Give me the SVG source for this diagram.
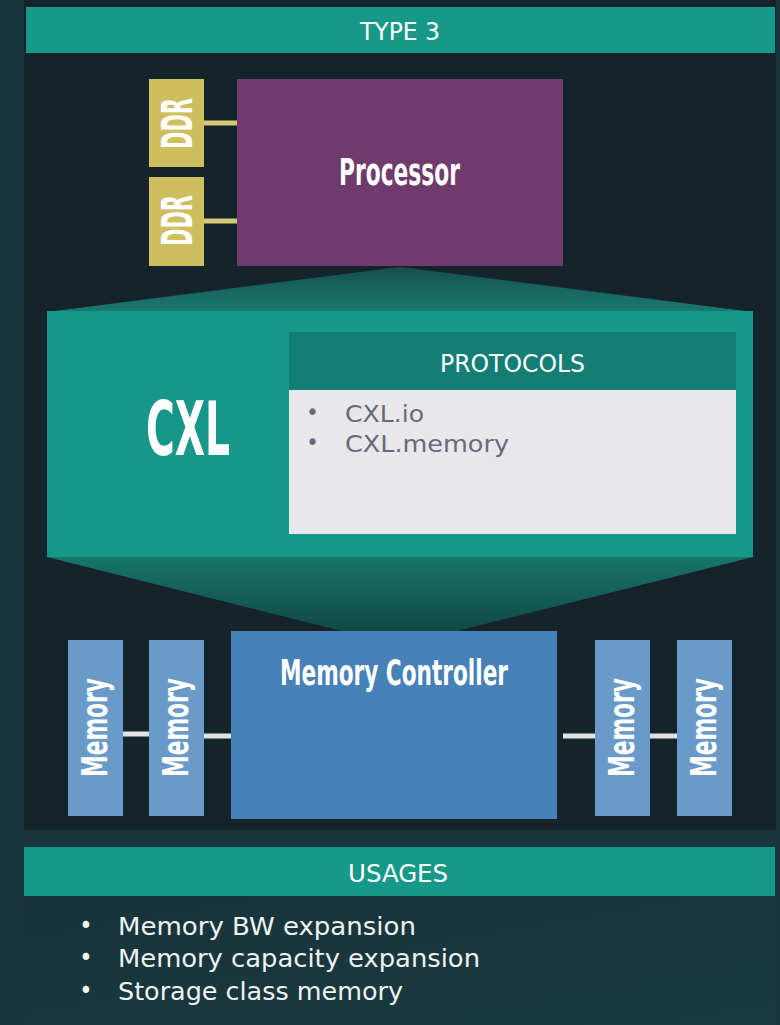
<svg xmlns="http://www.w3.org/2000/svg" width="780" height="1025" viewBox="0 0 780 1025">
  <defs>
    <linearGradient id="gTop" x1="0" y1="0" x2="0" y2="1">
      <stop offset="0" stop-color="#16504d"/>
      <stop offset="1" stop-color="#1a7a70"/>
    </linearGradient>
    <linearGradient id="gBot" x1="0" y1="0" x2="0" y2="1">
      <stop offset="0" stop-color="#177569"/>
      <stop offset="1" stop-color="#134846"/>
    </linearGradient>
    <linearGradient id="gUse" x1="0" y1="0" x2="1" y2="1">
      <stop offset="0" stop-color="#18343a"/>
      <stop offset="1" stop-color="#1a3a40"/>
    </linearGradient>
    <style>
      .bar { fill: #17998a; }
      .cond { font-family: "DejaVu Sans Condensed", "DejaVu Sans", sans-serif; font-stretch: condensed; }
      .hdr { font-size: 25px; fill: #ffffff; text-anchor: middle; }
      .bold { font-weight: bold; fill: #ffffff; }
      .mem { fill: #6a9bc8; }
      .ddr { fill: #cfbe5f; }
      .proto { font-size: 23.5px; fill: #6b687c; }
      .use { font-size: 25px; fill: #eef3f3; }
      .lnk-y { stroke: #d6c97c; stroke-width: 5; }
      .lnk-g { stroke: #e2e2e2; stroke-width: 5; }
    </style>
  </defs>

  <!-- background -->
  <rect x="0" y="0" width="780" height="1025" fill="#18363c"/>
  <rect x="24" y="0" width="752" height="830" fill="#15242a"/>
  <rect x="24" y="896" width="752" height="129" fill="url(#gUse)"/>

  <!-- TYPE 3 header -->
  <g id="type3-header">
    <rect class="bar" x="26" y="7" width="749" height="46"/>
    <text class="cond hdr" x="400" y="40" textLength="80" lengthAdjust="spacingAndGlyphs">TYPE 3</text>
  </g>

  <!-- connectors -->
  <g id="connectors">
    <line class="lnk-y" x1="204" y1="123" x2="237" y2="123"/>
    <line class="lnk-y" x1="204" y1="221" x2="237" y2="221"/>
    <line class="lnk-g" x1="123" y1="734" x2="149" y2="734"/>
    <line class="lnk-g" x1="204" y1="736" x2="231" y2="736"/>
    <line class="lnk-g" x1="563" y1="736" x2="595" y2="736"/>
    <line class="lnk-g" x1="650" y1="736" x2="677" y2="736"/>
  </g>

  <!-- DDR modules -->
  <g id="ddr1">
    <rect class="ddr" x="149" y="79" width="55" height="88"/>
    <text class="cond bold" font-size="42" text-anchor="middle" transform="translate(176.5,123.5) rotate(-90)" x="0" y="15.5" textLength="51" lengthAdjust="spacingAndGlyphs">DDR</text>
  </g>
  <g id="ddr2">
    <rect class="ddr" x="149" y="177" width="55" height="89"/>
    <text class="cond bold" font-size="42" text-anchor="middle" transform="translate(176.5,220.5) rotate(-90)" x="0" y="15.5" textLength="51" lengthAdjust="spacingAndGlyphs">DDR</text>
  </g>

  <!-- Processor -->
  <g id="processor">
    <rect x="237" y="79" width="326" height="187" fill="#6f3a6c"/>
    <text class="cond bold" font-size="37" text-anchor="middle" x="399.5" y="185" textLength="121" lengthAdjust="spacingAndGlyphs">Processor</text>
  </g>

  <!-- funnel shapes -->
  <g id="funnel-top">
    <polygon points="400,267 753,312 47,312" fill="url(#gTop)"/>
  </g>
  <g id="funnel-bottom">
    <polygon points="47,557 753,557 457,631 342,631" fill="url(#gBot)"/>
  </g>

  <!-- CXL block -->
  <g id="cxl">
    <rect x="47" y="311" width="706" height="246" fill="#17978a"/>
    <text class="cond bold" font-size="75" text-anchor="middle" x="188" y="455" textLength="84" lengthAdjust="spacingAndGlyphs">CXL</text>
  </g>

  <!-- Protocols -->
  <g id="protocols">
    <rect x="289" y="332" width="447" height="58" fill="#137e74"/>
    <rect x="289" y="390" width="447" height="144" fill="#e8e8ea"/>
    <text class="cond hdr" font-size="26" x="512.5" y="372" textLength="145" lengthAdjust="spacingAndGlyphs">PROTOCOLS</text>
    <text class="cond proto" x="312.5" y="420" text-anchor="middle">•</text>
    <text class="cond proto" x="345" y="422" textLength="79" lengthAdjust="spacingAndGlyphs">CXL.io</text>
    <text class="cond proto" x="312.5" y="450" text-anchor="middle">•</text>
    <text class="cond proto" x="345" y="452" textLength="164" lengthAdjust="spacingAndGlyphs">CXL.memory</text>
  </g>

  <!-- Memory controller -->
  <g id="memory-controller">
    <rect x="231" y="631" width="326" height="188" fill="#4781b7"/>
    <text class="cond bold" font-size="36" text-anchor="middle" x="394" y="685" textLength="228" lengthAdjust="spacingAndGlyphs">Memory Controller</text>
  </g>

  <!-- Memory modules -->
  <g id="memory1">
    <rect class="mem" x="68" y="640" width="55" height="176"/>
    <text class="cond bold" font-size="36" text-anchor="middle" transform="translate(95.5,727.5) rotate(-90)" x="0" y="11.5" textLength="99" lengthAdjust="spacingAndGlyphs">Memory</text>
  </g>
  <g id="memory2">
    <rect class="mem" x="149" y="640" width="55" height="176"/>
    <text class="cond bold" font-size="36" text-anchor="middle" transform="translate(176.5,727.5) rotate(-90)" x="0" y="11.5" textLength="99" lengthAdjust="spacingAndGlyphs">Memory</text>
  </g>
  <g id="memory3">
    <rect class="mem" x="595" y="640" width="55" height="176"/>
    <text class="cond bold" font-size="36" text-anchor="middle" transform="translate(622.5,727.5) rotate(-90)" x="0" y="11.5" textLength="99" lengthAdjust="spacingAndGlyphs">Memory</text>
  </g>
  <g id="memory4">
    <rect class="mem" x="677" y="640" width="55" height="176"/>
    <text class="cond bold" font-size="36" text-anchor="middle" transform="translate(704.5,727.5) rotate(-90)" x="0" y="11.5" textLength="99" lengthAdjust="spacingAndGlyphs">Memory</text>
  </g>

  <!-- Usages -->
  <g id="usages">
    <rect class="bar" x="24" y="847" width="751" height="49"/>
    <text class="cond hdr" font-size="24" x="398" y="882" textLength="100" lengthAdjust="spacingAndGlyphs">USAGES</text>
    <text class="cond use" x="86" y="934" text-anchor="middle">•</text>
    <text class="cond use" x="118" y="935" textLength="298" lengthAdjust="spacingAndGlyphs">Memory BW expansion</text>
    <text class="cond use" x="86" y="966" text-anchor="middle">•</text>
    <text class="cond use" x="118" y="967" textLength="362" lengthAdjust="spacingAndGlyphs">Memory capacity expansion</text>
    <text class="cond use" x="86" y="999" text-anchor="middle">•</text>
    <text class="cond use" x="118" y="1000" textLength="285" lengthAdjust="spacingAndGlyphs">Storage class memory</text>
  </g>
</svg>
